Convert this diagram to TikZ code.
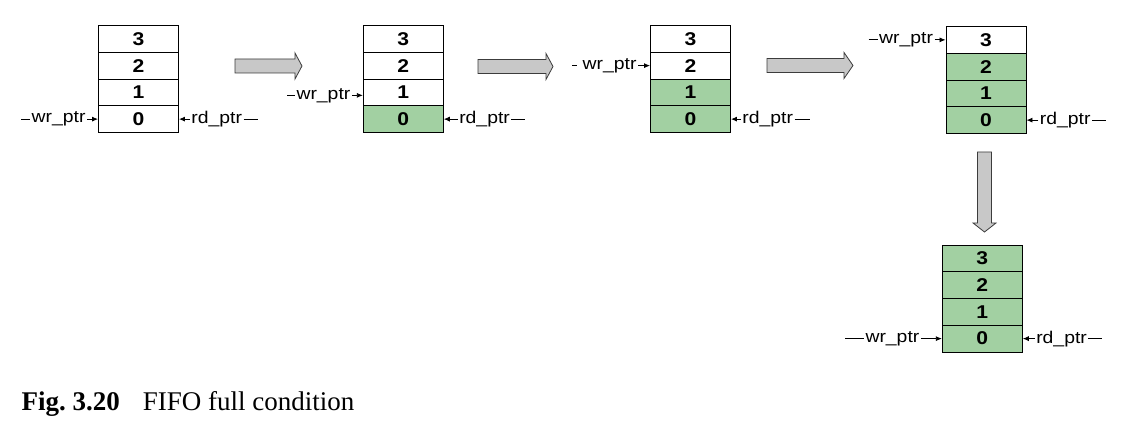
\documentclass[tikz,border=0pt]{standalone}
\usepackage{fontspec}
\setmainfont{Liberation Sans}
\newfontfamily\lblfont[FakeStretch=1.14]{Liberation Sans}
\newfontfamily\capfont{Liberation Serif}
\usetikzlibrary{arrows.meta,positioning}
\definecolor{fgreen}{RGB}{162,208,162}
\definecolor{agray}{RGB}{200,200,200}
\definecolor{aedge}{RGB}{60,60,60}
\tikzset{
  cell/.style={draw,line width=0.9pt,minimum width=80pt,minimum height=26.75pt,inner sep=0pt,
    font=\lblfont\fontsize{18.5}{20}\selectfont\bfseries},
  lbl/.style={inner sep=1.5pt,outer sep=0pt,font=\lblfont\fontsize{17}{20}\selectfont},
  ptr/.style={line width=0.8pt,-{Latex[length=6pt,width=5pt]}},
  tail/.style={line width=0.8pt},
  bigarrow/.style={draw=aedge,fill=agray,line width=0.8pt,line join=miter}
}
\newcommand\fifobox[4]{%
  \foreach \i in {0,1,2,3}{%
    \ifnum\i<#4 \def\fc{fgreen}\else\def\fc{white}\fi
    \node[cell,fill=\fc] (#1c\i) at (#2,{#3+(3.5-\i)*26.75}) {\i};
  }}
\newcommand\harrow[5]{% name x1 x2 yc headlen
  \draw[bigarrow] (#2,#4-7) -- (#3-#5,#4-7) -- (#3-#5,#4-13) -- (#3,#4) -- (#3-#5,#4+13)
    -- (#3-#5,#4+7) -- (#2,#4+7) -- cycle;}
\begin{document}
\begin{tikzpicture}[x=1pt,y=-1pt]
\useasboundingbox (0,0) rectangle (1137,438);

% FIFOs
\fifobox{fa}{138.5}{25.5}{0}
\fifobox{fb}{403.3}{25.5}{1}
\fifobox{fc}{690.5}{25.5}{2}
\fifobox{fd}{986}{26.5}{3}
\fifobox{fe}{982.3}{245}{4}

% pointers FIFO a
\node[lbl,left=11pt of fac0] (wa) {wr\_ptr};
\coordinate (was) at ([xshift=-9pt]wa.west);
\draw[tail] (was) -- (wa);
\draw[ptr] (wa) -- (fac0);
\node[lbl,right=11pt of fac0] (ra) {rd\_ptr};
\coordinate (rae) at ([xshift=14pt]ra.east);
\draw[tail] (ra) -- (rae);
\draw[ptr] (ra) -- (fac0);

% pointers FIFO b
\node[lbl,left=11pt of fbc1,yshift=-3pt] (wb) {wr\_ptr};
\coordinate (wbs) at ([xshift=-8pt]wb.west);
\draw[tail] (wbs) -- (wb);
\draw[ptr] (wb.east) -- (wb.east -| fbc1.west);
\node[lbl,right=14pt of fbc0] (rb) {rd\_ptr};
\coordinate (rbe) at ([xshift=14pt]rb.east);
\draw[tail] (rb) -- (rbe);
\draw[ptr] (rb) -- (fbc0);

% pointers FIFO c
\node[lbl,left=12pt of fcc2] (wc) {wr\_ptr};
\coordinate (wcs) at ([xshift=-9pt]wc.west);
\draw[tail] (wcs) -- ([xshift=-4pt]wc.west);
\draw[ptr] (wc) -- (fcc2);
\node[lbl,right=10pt of fcc0] (rc) {rd\_ptr};
\coordinate (rce) at ([xshift=15pt]rc.east);
\draw[tail] (rc) -- (rce);
\draw[ptr] (rc) -- (fcc0);

% pointers FIFO d
\node[lbl,left=11pt of fdc3] (wd) {wr\_ptr};
\coordinate (wds) at ([xshift=-9pt]wd.west);
\draw[tail] (wds) -- (wd);
\draw[ptr] (wd) -- (fdc3);
\node[lbl,right=12pt of fdc0] (rd) {rd\_ptr};
\coordinate (rde) at ([xshift=14pt]rd.east);
\draw[tail] (rd) -- (rde);
\draw[ptr] (rd) -- (fdc0);

% pointers FIFO e
\node[lbl,left=21pt of fec0] (we) {wr\_ptr};
\coordinate (wes) at ([xshift=-19pt]we.west);
\draw[tail] (wes) -- (we);
\draw[ptr] (we) -- (fec0);
\node[lbl,right=12pt of fec0] (re) {rd\_ptr};
\coordinate (ree) at ([xshift=14pt]re.east);
\draw[tail] (re) -- (ree);
\draw[ptr] (re) -- (fec0);

% big transition arrows
\harrow{ab}{235}{302}{66}{7}
\harrow{bc}{478}{553}{66.5}{7}
\harrow{cd}{767}{853}{65.5}{9}
\draw[bigarrow] (977.5,152) -- (991.5,152) -- (991.5,223) -- (996,223) -- (984.5,232)
  -- (973,223) -- (977.5,223) -- cycle;

% caption
\node[anchor=base west,inner sep=0pt] (cap) at (21.5,410)
  {\capfont\fontsize{27}{30}\selectfont\textbf{Fig.~3.20}\hspace{23pt}FIFO full condition};
\end{tikzpicture}
\end{document}
